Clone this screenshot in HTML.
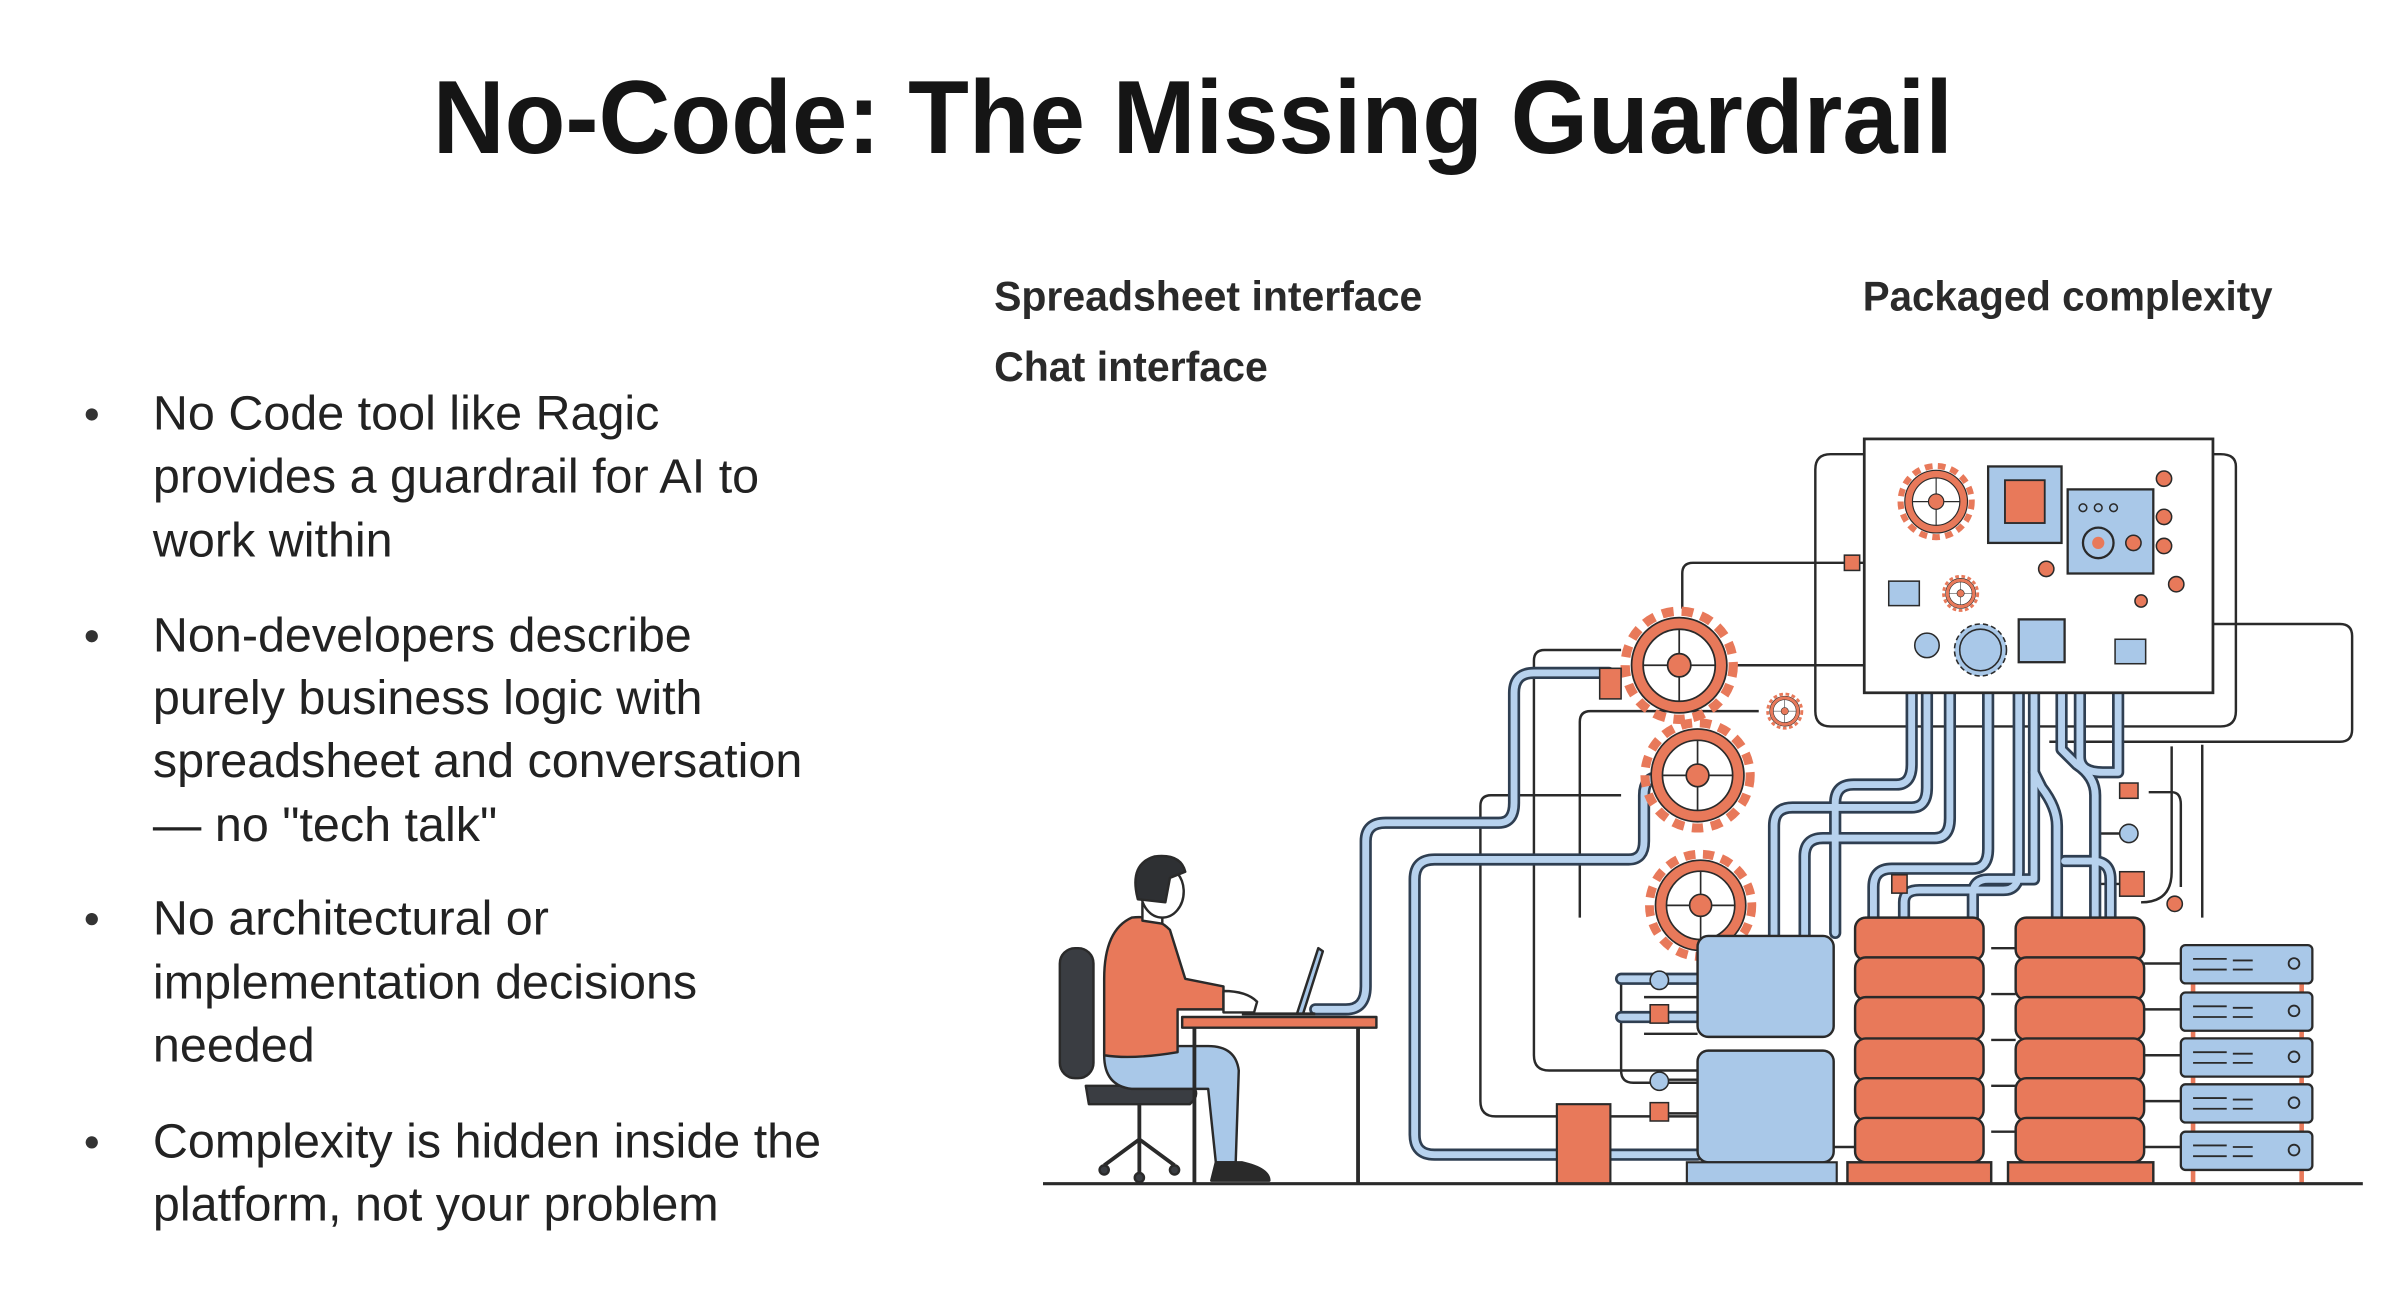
<!DOCTYPE html>
<html><head><meta charset="utf-8"><style>
html,body{margin:0;padding:0;background:#fff;}
svg{display:block;}
</style></head><body>
<svg width="2398" height="1314" viewBox="0 0 1568 859.2" preserveAspectRatio="none" xmlns="http://www.w3.org/2000/svg" font-family="Liberation Sans, sans-serif">
<rect width="1568" height="860" fill="#fff"/>
<text x="780" y="100" text-anchor="middle" font-size="68" font-weight="bold" fill="#151515" textLength="994" lengthAdjust="spacingAndGlyphs">No-Code: The Missing Guardrail</text>
<g font-size="27" font-weight="bold" fill="#2a2a2a">
<text x="650" y="203" textLength="280" lengthAdjust="spacingAndGlyphs">Spreadsheet interface</text>
<text x="650" y="249" textLength="179" lengthAdjust="spacingAndGlyphs">Chat interface</text>
<text x="1218" y="203" textLength="268" lengthAdjust="spacingAndGlyphs">Packaged complexity</text>
</g>
<g font-size="31.7" fill="#222">
<circle cx="60" cy="271" r="4" fill="#333"/><circle cx="60" cy="416" r="4" fill="#333"/><circle cx="60" cy="601" r="4" fill="#333"/><circle cx="60" cy="747" r="4" fill="#333"/>
<text x="100" y="281">No Code tool like Ragic</text>
<text x="100" y="322">provides a guardrail for AI to</text>
<text x="100" y="364">work within</text>
<text x="100" y="426">Non-developers describe</text>
<text x="100" y="467">purely business logic with</text>
<text x="100" y="508">spreadsheet and conversation</text>
<text x="100" y="550">— no "tech talk"</text>
<text x="100" y="611">No architectural or</text>
<text x="100" y="653">implementation decisions</text>
<text x="100" y="694">needed</text>
<text x="100" y="757">Complexity is hidden inside the</text>
<text x="100" y="798">platform, not your problem</text>
</g>

<g fill="none" stroke="#2a2a2a" stroke-width="1.6">
<path d="M1219 297 H1197 Q1187 297 1187 307 V465 Q1187 475 1197 475 H1452 Q1462 475 1462 465 V305 Q1462 297 1452 297 H1447"/>
<path d="M1100 398 V375 Q1100 368 1107 368 H1219"/>
<path d="M1447 408 H1530 Q1538 408 1538 416 V477 Q1538 485 1530 485 H1340"/>
<path d="M1060 425 H1010 Q1003 425 1003 432 V690 Q1003 700 1013 700 H1110"/>
<path d="M1060 520 H975 Q968 520 968 527 V720 Q968 730 978 730 H1110"/>
<path d="M1150 465 H1040 Q1033 465 1033 472 V600"/>
<path d="M1136 435 H1219"/>
<path d="M1405 518 H1420 Q1426 518 1426 526 V580"/>
<path d="M1392 545 H1372"/><path d="M1400 590 Q1420 590 1420 570 V488"/>
<path d="M1395 578 H1372"/>
<path d="M1440 487 V600"/>
<path d="M1300 335 L1285 335 M1408 330 L1432 330 V375 H1408 M1372 305 V320 M1380 305 V320 M1390 305 V320 M1400 305 V320 M1372 305 H1408"/>
<path d="M1270 355 L1290 380 H1335 L1345 370 M1240 390 V415 H1290 M1300 390 H1340 L1360 405 H1390 M1390 380 V400 H1400 M1370 380 V420 L1385 420"/>
<path d="M1060 640 V700 Q1060 708 1068 708 H1110 M1075 652 H1110 M1075 676 H1110 M1082 706 H1110 M1082 728 H1110"/>
<path d="M1198 750 H1213 M1302 620 H1318 M1302 650 H1318 M1302 680 H1318 M1302 710 H1318 M1302 740 H1318 M1402 630 H1426 M1402 660 H1426 M1402 690 H1426 M1402 720 H1426 M1402 750 H1426"/>
</g>

<g fill="none" stroke-linecap="round" stroke-linejoin="round">
<g stroke="#2f3f52" stroke-width="8">
<path d="M860 660 H880 Q893 660 893 645 V550 Q893 538 906 538 H980 Q990 538 990 525 V453 Q990 440 1003 440 H1052"/>
<path d="M1110 755 H938 Q925 755 925 742 V575 Q925 562 938 562 H1065 Q1075 562 1075 550 V520 Q1075 508 1085 508"/>
<path d="M1200 610 V525 Q1200 513 1212 513 H1240 Q1250 513 1250 500 V453"/>
<path d="M1160 612 V540 Q1160 528 1172 528 H1250 Q1260 528 1260 515 V453"/>
<path d="M1180 612 V560 Q1180 548 1192 548 H1265 Q1275 548 1275 535 V453"/>
<path d="M1225 600 V580 Q1225 568 1237 568 H1290 Q1300 568 1300 555 V453"/>
<path d="M1245 600 V590 Q1245 582 1255 582 H1310 Q1320 582 1320 570 V453"/>
<path d="M1290 600 V585 Q1290 575 1300 575 H1330 V453"/>
<path d="M1345 600 V540 Q1345 528 1335 515 L1330 505"/>
<path d="M1370 600 V520 Q1370 508 1358 500 L1348 490 V453"/>
<path d="M1380 600 V575 Q1380 563 1368 563 H1350"/>
<path d="M1360 453 V495 Q1360 505 1375 505 H1385 V453"/>
<path d="M1060 640 H1110"/><path d="M1060 665 H1110"/>
</g>
<g stroke="#b7d2ee" stroke-width="4.5">
<path d="M860 660 H880 Q893 660 893 645 V550 Q893 538 906 538 H980 Q990 538 990 525 V453 Q990 440 1003 440 H1052"/>
<path d="M1110 755 H938 Q925 755 925 742 V575 Q925 562 938 562 H1065 Q1075 562 1075 550 V520 Q1075 508 1085 508"/>
<path d="M1200 610 V525 Q1200 513 1212 513 H1240 Q1250 513 1250 500 V453"/>
<path d="M1160 612 V540 Q1160 528 1172 528 H1250 Q1260 528 1260 515 V453"/>
<path d="M1180 612 V560 Q1180 548 1192 548 H1265 Q1275 548 1275 535 V453"/>
<path d="M1225 600 V580 Q1225 568 1237 568 H1290 Q1300 568 1300 555 V453"/>
<path d="M1245 600 V590 Q1245 582 1255 582 H1310 Q1320 582 1320 570 V453"/>
<path d="M1290 600 V585 Q1290 575 1300 575 H1330 V453"/>
<path d="M1345 600 V540 Q1345 528 1335 515 L1330 505"/>
<path d="M1370 600 V520 Q1370 508 1358 500 L1348 490 V453"/>
<path d="M1380 600 V575 Q1380 563 1368 563 H1350"/>
<path d="M1360 453 V495 Q1360 505 1375 505 H1385 V453"/>
<path d="M1060 640 H1110"/><path d="M1060 665 H1110"/>
</g>
</g>

<rect x="1219" y="287" width="228" height="166" fill="#fff" stroke="#2a2a2a" stroke-width="1.8"/>
<rect x="1300" y="305" width="48" height="50" fill="#a9c8e8" stroke="#2a2a2a" stroke-width="1.5"/>
<rect x="1311" y="314" width="26" height="28" fill="#e8795a" stroke="#2a2a2a" stroke-width="1.2"/>
<rect x="1352" y="320" width="56" height="55" fill="#a9c8e8" stroke="#2a2a2a" stroke-width="1.5"/>
<circle cx="1372" cy="355" r="10" fill="#a9c8e8" stroke="#2a2a2a" stroke-width="1.5"/><circle cx="1372" cy="355" r="4" fill="#e8795a"/>
<circle cx="1395" cy="355" r="5" fill="#e8795a" stroke="#2a2a2a"/>
<circle cx="1362" cy="332" r="2.5" fill="none" stroke="#2a2a2a"/><circle cx="1372" cy="332" r="2.5" fill="none" stroke="#2a2a2a"/><circle cx="1382" cy="332" r="2.5" fill="none" stroke="#2a2a2a"/>
<rect x="1320" y="405" width="30" height="28" fill="#a9c8e8" stroke="#2a2a2a" stroke-width="1.5"/>
<rect x="1235" y="380" width="20" height="16" fill="#a9c8e8" stroke="#2a2a2a"/>
<rect x="1383" y="418" width="20" height="16" fill="#a9c8e8" stroke="#2a2a2a"/>
<circle cx="1260" cy="422" r="8" fill="#a9c8e8" stroke="#2a2a2a"/>
<g fill="#e8795a" stroke="#2a2a2a"><circle cx="1415" cy="313" r="5"/><circle cx="1415" cy="338" r="5"/><circle cx="1415" cy="357" r="5"/><circle cx="1338" cy="372" r="5"/><circle cx="1423" cy="382" r="5"/><circle cx="1400" cy="393" r="4"/></g>

<defs>
<g id="gear"><circle r="0.93" fill="none" stroke="#e8795a" stroke-width="0.16" stroke-dasharray="0.2 0.14"/><circle r="0.82" fill="#e8795a" stroke="#2a2a2a" stroke-width="0.03"/><circle r="0.62" fill="#fff" stroke="#2a2a2a" stroke-width="0.03"/><path d="M-0.62 0H0.62M0 -0.62V0.62" stroke="#2a2a2a" stroke-width="0.03"/><circle r="0.2" fill="#e8795a" stroke="#2a2a2a" stroke-width="0.03"/></g>
<g id="bgear"><circle r="1" fill="#a9c8e8" stroke="#2a2a2a" stroke-width="0.06" stroke-dasharray="0.2 0.12"/><circle r="0.8" fill="#a9c8e8" stroke="#2a2a2a" stroke-width="0.06"/></g>
</defs>
<use href="#gear" transform="translate(1098 435) scale(38)"/>
<use href="#gear" transform="translate(1110 507) scale(37)"/>
<use href="#gear" transform="translate(1112 592) scale(36)"/>
<use href="#gear" transform="translate(1167 465) scale(12)"/>
<use href="#gear" transform="translate(1266 328) scale(25)"/>
<use href="#gear" transform="translate(1282 388) scale(12)"/>
<use href="#bgear" transform="translate(1295 425) scale(17)"/>
<rect x="1046" y="437" width="14" height="20" fill="#e8795a" stroke="#2a2a2a"/>
<rect x="1206" y="363" width="10" height="10" fill="#e8795a" stroke="#2a2a2a"/>
<rect x="1386" y="512" width="12" height="10" fill="#e8795a" stroke="#2a2a2a"/>
<circle cx="1392" cy="545" r="6" fill="#a9c8e8" stroke="#2a2a2a"/>
<rect x="1386" y="570" width="16" height="16" fill="#e8795a" stroke="#2a2a2a"/>
<circle cx="1422" cy="591" r="5" fill="#e8795a" stroke="#2a2a2a"/>
<rect x="1237" y="572" width="10" height="12" fill="#e8795a" stroke="#2a2a2a"/>
<g stroke="#2a2a2a"><circle cx="1085" cy="641" r="6" fill="#a9c8e8"/><rect x="1079" y="657" width="12" height="12" fill="#e8795a"/><circle cx="1085" cy="707" r="6" fill="#a9c8e8"/><rect x="1079" y="721" width="12" height="12" fill="#e8795a"/></g>

<rect x="1110" y="612" width="89" height="66" rx="7" fill="#a9c8e8" stroke="#2a2a2a" stroke-width="1.6"/>
<rect x="1110" y="687" width="89" height="73" rx="7" fill="#a9c8e8" stroke="#2a2a2a" stroke-width="1.6"/>
<rect x="1103" y="760" width="98" height="14" fill="#a9c8e8" stroke="#2a2a2a" stroke-width="1.4"/>
<rect x="1018" y="722" width="35" height="52" fill="#e8795a" stroke="#2a2a2a" stroke-width="1.4"/>

<g fill="#e8795a" stroke="#2a2a2a" stroke-width="1.6">
<rect x="1213" y="600" width="84" height="28" rx="7"/><rect x="1213" y="626" width="84" height="28" rx="7"/><rect x="1213" y="652" width="84" height="28" rx="7"/><rect x="1213" y="679" width="84" height="28" rx="7"/><rect x="1213" y="705" width="84" height="28" rx="7"/><rect x="1213" y="731" width="84" height="29" rx="7"/>
<rect x="1208" y="760" width="94" height="14"/>
<rect x="1318" y="600" width="84" height="28" rx="7"/><rect x="1318" y="626" width="84" height="28" rx="7"/><rect x="1318" y="652" width="84" height="28" rx="7"/><rect x="1318" y="679" width="84" height="28" rx="7"/><rect x="1318" y="705" width="84" height="28" rx="7"/><rect x="1318" y="731" width="84" height="29" rx="7"/>
<rect x="1313" y="760" width="95" height="14"/>
</g>

<g stroke="#2a2a2a" stroke-width="1.5">
<path d="M1434 640 V774 M1505 640 V774" stroke="#e8795a" stroke-width="3"/>
<g fill="#a9c8e8">
<rect x="1426" y="618" width="86" height="25" rx="3"/><rect x="1426" y="649" width="86" height="25" rx="3"/><rect x="1426" y="679" width="86" height="25" rx="3"/><rect x="1426" y="709" width="86" height="25" rx="3"/><rect x="1426" y="740" width="86" height="25" rx="3"/>
</g>
<g fill="none" stroke-width="1.2">
<path d="M1434 627h22M1434 634h22M1460 628h13M1460 634h13 M1434 658h22M1434 665h22M1460 659h13M1460 665h13 M1434 688h22M1434 695h22M1460 689h13M1460 695h13 M1434 718h22M1434 725h22M1460 719h13M1460 725h13 M1434 749h22M1434 756h22M1460 750h13M1460 756h13"/>
<circle cx="1500" cy="630" r="3.5"/><circle cx="1500" cy="661" r="3.5"/><circle cx="1500" cy="691" r="3.5"/><circle cx="1500" cy="721" r="3.5"/><circle cx="1500" cy="752" r="3.5"/>
</g>
</g>

<g stroke="#2a2a2a" stroke-width="1.6" stroke-linejoin="round">
<rect x="693" y="620" width="22" height="85" rx="10" fill="#3a3d42"/>
<path d="M710 710 H780 Q785 716 778 722 H712 Z" fill="#3a3d42"/>
<path d="M745 722 V745 M745 745 L722 762 M745 745 L768 762 M745 745 V768" fill="none" stroke-width="2.5"/>
<circle cx="722" cy="765" r="3" fill="#3a3d42"/><circle cx="768" cy="765" r="3" fill="#3a3d42"/><circle cx="745" cy="770" r="3" fill="#3a3d42"/>
<path d="M722 690 Q722 710 740 712 H790 L795 760 H808 L810 700 Q808 684 790 684 H770 Z" fill="#a9c8e8"/>
<path d="M795 760 L812 760 Q830 764 830 772 H792 Z" fill="#2a2a2a"/>
<path d="M740 600 Q722 608 722 640 L722 690 Q740 693 770 688 L770 660 H800 L800 645 L775 640 L765 608 Q755 598 740 600 Z" fill="#e8795a"/>
<path d="M800 648 Q815 648 822 655 L820 662 H800 Z" fill="#fff"/>
<path d="M747 590 V602 L760 604 V595" fill="#fff"/>
<ellipse cx="760" cy="583" rx="14" ry="17" fill="#fff"/>
<path d="M744 588 Q738 565 755 560 Q772 558 775 570 L765 574 L762 590 Z" fill="#2e3033"/>
<rect x="773" y="665" width="127" height="7" fill="#e8795a"/>
<path d="M781 672 V774 M888 672 V774" fill="none" stroke-width="2.5"/>
<path d="M848 663 L862 620 L865 622 L852 663 Z" fill="#a9c8e8"/>
<path d="M812 663 H860" fill="none" stroke-width="2"/>
</g>

<line x1="682" y1="774" x2="1545" y2="774" stroke="#2a2a2a" stroke-width="2"/>
</svg>
</body></html>
